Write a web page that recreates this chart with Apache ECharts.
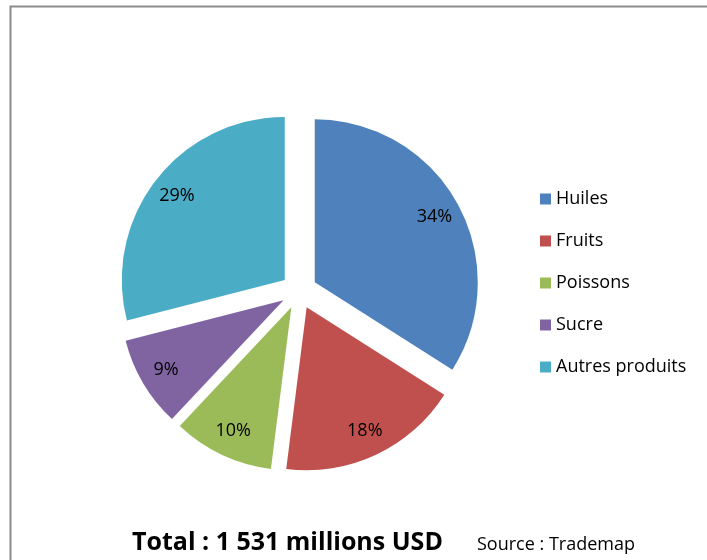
<!DOCTYPE html>
<html>
<head>
<meta charset="utf-8">
<script src="https://cdn.jsdelivr.net/npm/echarts@6/dist/echarts.min.js"></script>
<style>
  html, body { margin: 0; padding: 0; background: #fff; }
  #main { width: 707px; height: 560px; }
</style>
</head>
<body>
<div id="main"></div>
<script>
// categories and shares (%)
var categories = ["Huiles", "Fruits", "Poissons", "Sucre", "Autres produits"];
var shares = [34, 18, 10, 9, 29];
var colors = ["#4F81BD", "#C0504D", "#9BBB59", "#8064A2", "#4BACC6"];

var totalText = "Total : 1 531 millions USD";
var sourceText = "Source : Trademap";

var myChart = echarts.init(document.getElementById("main"));

// pie data, every slice pulled out
var pieData = [];
var labelData = [];
for (var i = 0; i < categories.length; i++) {
    pieData.push({ name: categories[i], value: shares[i], selected: true, itemStyle: { color: colors[i] } });
    labelData.push({ name: categories[i], value: shares[i], selected: true });
}

var option = {
    backgroundColor: "#fff",
    animation: false,
    color: colors,
    textStyle: { fontFamily: "Open Sans" },
    // frame of the chart area
    graphic: [
        {
            type: "rect",
            shape: { x: 10.5, y: 6.5, width: 740, height: 620 },
            style: { fill: null, stroke: "#8c8c8c", lineWidth: 2 },
            silent: true
        },
        {
            type: "text",
            left: 132,
            top: 530,
            style: { text: totalText, font: "bold 25px 'Open Sans'", fill: "#000" }
        },
        {
            type: "text",
            left: 477,
            top: 536,
            style: { text: sourceText, font: "18px 'Open Sans'", fill: "#000" }
        }
    ],
    legend: {
        orient: "vertical",
        left: 540,
        top: 189,
        padding: 0,
        itemWidth: 11,
        itemHeight: 11,
        itemGap: 22,
        icon: "rect",
        selectedMode: false,
        data: categories,
        textStyle: { fontSize: 18, lineHeight: 20, color: "#000", fontFamily: "Open Sans" }
    },
    series: [
        {
            name: "Exportations",
            type: "pie",
            center: [299, 291],
            radius: [0, 163],
            startAngle: 90,
            clockwise: true,
            selectedMode: "multiple",
            selectedOffset: 18,
            label: { show: false },
            labelLine: { show: false },
            emphasis: { disabled: true },
            data: pieData
        },
        {
            // transparent ring only used to place the % labels
            name: "labels",
            type: "pie",
            silent: true,
            center: [299, 291],
            radius: [104, 163],
            startAngle: 90,
            clockwise: true,
            selectedMode: "multiple",
            selectedOffset: 18,
            itemStyle: { color: "rgba(0,0,0,0)" },
            label: {
                show: true,
                position: "inside",
                formatter: "{c}%",
                fontSize: 18,
                color: "#000",
                fontFamily: "Open Sans"
            },
            labelLine: { show: false },
            emphasis: { disabled: true },
            data: labelData
        }
    ]
};
myChart.setOption(option);
</script>
</body>
</html>
